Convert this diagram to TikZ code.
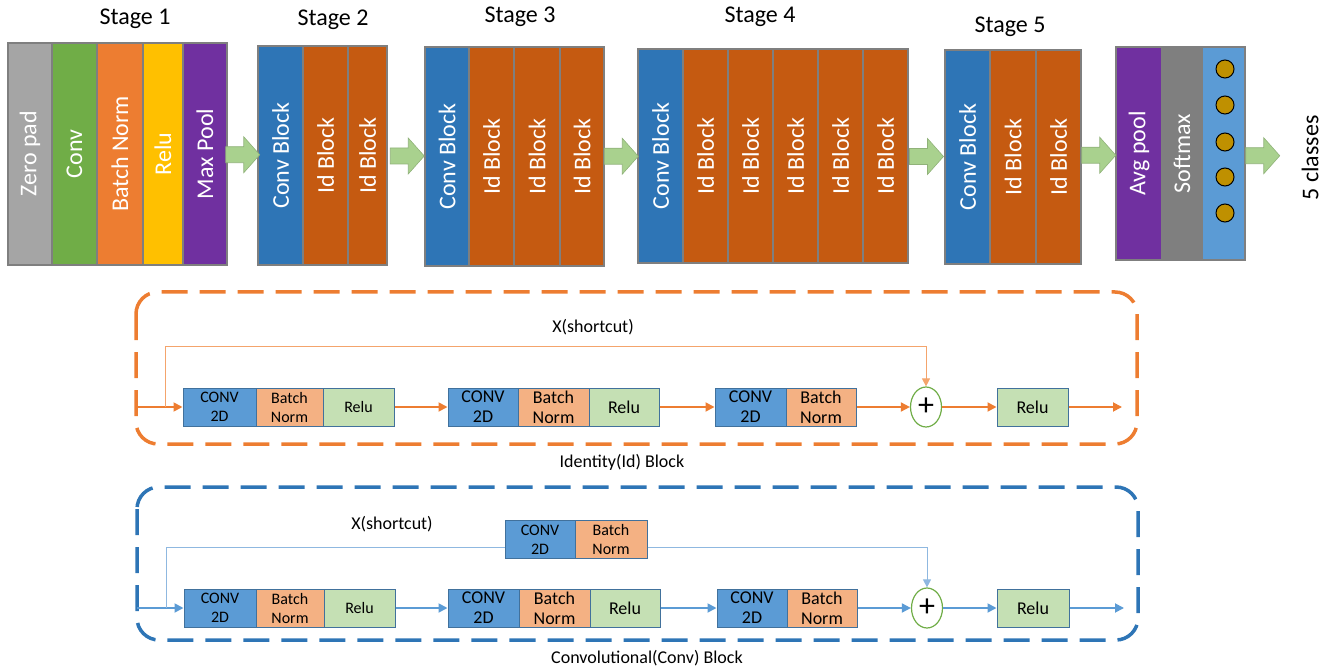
\documentclass[tikz,border=0pt]{standalone}
\usepackage{fontspec}
\setmainfont{Carlito}
\usetikzlibrary{arrows.meta,shapes.geometric,calc}

\definecolor{zpgray}{HTML}{A5A5A5}
\definecolor{convgreen}{HTML}{70AD47}
\definecolor{bnorange}{HTML}{ED7D31}
\definecolor{relugold}{HTML}{FFC000}
\definecolor{poolpurple}{HTML}{7030A0}
\definecolor{blockblue}{HTML}{2E75B6}
\definecolor{idbrown}{HTML}{C55A11}
\definecolor{softgray}{HTML}{7F7F7F}
\definecolor{outblue}{HTML}{5B9BD5}
\definecolor{dotgold}{HTML}{BF9000}
\definecolor{arrowgreen}{HTML}{A9D18E}
\definecolor{boxblue}{HTML}{5B9BD5}
\definecolor{boxpeach}{HTML}{F4B183}
\definecolor{boxgreen}{HTML}{C5E0B4}
\definecolor{boxedge}{HTML}{41719C}
\definecolor{lineblue}{HTML}{5B9BD5}
\definecolor{skipblue}{HTML}{8FB8E0}
\definecolor{skiporange}{HTML}{F4A46C}

\newcommand{\bigfont}{\fontsize{24}{28}\selectfont}
\newcommand{\midfont}{\fontsize{18}{20}\selectfont}
\newcommand{\smallfont}{\fontsize{16}{19}\selectfont}

\tikzset{
  col/.style={draw=softgray, line width=1.2pt, rotate=90, inner sep=0pt, text=white, font=\bigfont},
  dot/.style={circle, draw=black, line width=1pt, fill=dotgold, minimum size=18pt, inner sep=0pt},
  garrow/.style={fill=arrowgreen, draw=arrowgreen!85!black, line width=0.6pt},
  bx/.style={draw=boxedge, line width=1pt, inner sep=0pt, minimum height=38pt, align=center, font=\midfont},
  sbx/.style={bx, font=\smallfont},
  plus/.style={ellipse, draw=convgreen, line width=1.2pt, fill=white, minimum width=31pt, minimum height=40pt, inner sep=0pt, font=\fontsize{32}{32}\selectfont},
  flow/.style={-{Triangle[length=9pt,width=9pt]}, line width=1.8pt},
  skip/.style={line width=1pt},
  frame/.style={line width=3.5pt, rounded corners=22pt, dash pattern=on 26pt off 12pt},
  lbl/.style={font=\midfont}
}

\begin{document}
\begin{tikzpicture}[x=1pt,y=-1pt]
\useasboundingbox (0,0) rectangle (1333,668);

% stage 1
\node[font=\bigfont] (st1) at (135,19) {Stage 1};
\node[col, fill=zpgray, minimum width=222pt, minimum height=44pt] (zeropad) at (30,154) {Zero pad};
\node[col, fill=convgreen, minimum width=222pt, minimum height=45pt] (conv) at (74.5,154) {Conv};
\node[col, fill=bnorange, minimum width=222pt, minimum height=46pt] (bnorm) at (120,154) {Batch Norm};
\node[col, fill=relugold, minimum width=222pt, minimum height=40pt] (relu) at (163,154) {Relu};
\node[col, fill=poolpurple, minimum width=222pt, minimum height=44pt] (maxpool) at (205,154) {Max Pool};

% stage 2
\node[font=\bigfont] (st2) at (333,20) {Stage 2};
\node[col, fill=blockblue, minimum width=219pt, minimum height=45pt] (cbtwo) at (280.5,155.5) {Conv Block};
\node[col, fill=idbrown, minimum width=219pt, minimum height=45pt] (idtwoa) at (325.5,155.5) {Id Block};
\node[col, fill=idbrown, minimum width=219pt, minimum height=39pt] (idtwob) at (367.5,155.5) {Id Block};

% stage 3
\node[font=\bigfont] (st3) at (520,17) {Stage 3};
\node[col, fill=blockblue, minimum width=219pt, minimum height=44pt] (cbthree) at (447,156.5) {Conv Block};
\node[col, fill=idbrown, minimum width=219pt, minimum height=45pt] (idthreea) at (491.5,156.5) {Id Block};
\node[col, fill=idbrown, minimum width=219pt, minimum height=46pt] (idthreeb) at (537,156.5) {Id Block};
\node[col, fill=idbrown, minimum width=219pt, minimum height=44pt] (idthreec) at (582,156.5) {Id Block};

% stage 4
\node[font=\bigfont] (st4) at (760,17) {Stage 4};
\node[col, fill=blockblue, minimum width=214pt, minimum height=45pt] (cbfour) at (660.5,156) {Conv Block};
\node[col, fill=idbrown, minimum width=214pt, minimum height=45pt] (idfoura) at (705.5,156) {Id Block};
\node[col, fill=idbrown, minimum width=214pt, minimum height=45pt] (idfourb) at (750.5,156) {Id Block};
\node[col, fill=idbrown, minimum width=214pt, minimum height=45pt] (idfourc) at (795.5,156) {Id Block};
\node[col, fill=idbrown, minimum width=214pt, minimum height=45pt] (idfourd) at (840.5,156) {Id Block};
\node[col, fill=idbrown, minimum width=214pt, minimum height=45pt] (idfoure) at (885.5,156) {Id Block};

% stage 5
\node[font=\bigfont] (st5) at (1010,27) {Stage 5};
\node[col, fill=blockblue, minimum width=214pt, minimum height=45pt] (cbfive) at (967.5,157) {Conv Block};
\node[col, fill=idbrown, minimum width=214pt, minimum height=46pt] (idfivea) at (1013,157) {Id Block};
\node[col, fill=idbrown, minimum width=214pt, minimum height=45pt] (idfiveb) at (1058.5,157) {Id Block};

% head
\node[col, fill=poolpurple, minimum width=213pt, minimum height=46pt] (avgpool) at (1139,153.5) {Avg pool};
\node[col, fill=softgray, minimum width=213pt, minimum height=40pt] (softmax) at (1182,153.5) {Softmax};
\node[col, fill=outblue, minimum width=213pt, minimum height=43pt] (outcol) at (1223.5,153.5) {};
\node[dot] (d1) at (1225,69) {};
\node[dot] (d2) at (1225,105) {};
\node[dot] (d3) at (1225,142) {};
\node[dot] (d4) at (1225,177) {};
\node[dot] (d5) at (1225,213) {};
\node[rotate=90, font=\bigfont] (classes) at (1310,158) {5 classes};

% green arrows between stages
\draw[garrow] ($(maxpool)!.5!(cbtwo)$) ++(-17,-8) -- ++(18,0) -- ++(0,-10) -- ++(16,18) -- ++(-16,18) -- ++(0,-10) -- ++(-18,0) -- cycle;
\draw[garrow] ($(idtwob)!.5!(cbthree)$) ++(-17,-8) -- ++(18,0) -- ++(0,-10) -- ++(16,18) -- ++(-16,18) -- ++(0,-10) -- ++(-18,0) -- cycle;
\draw[garrow] ($(idthreec)!.5!(cbfour)$) ++(-17,-8) -- ++(18,0) -- ++(0,-10) -- ++(16,18) -- ++(-16,18) -- ++(0,-10) -- ++(-18,0) -- cycle;
\draw[garrow] ($(idfoure)!.5!(cbfive)$) ++(-17,-8) -- ++(18,0) -- ++(0,-10) -- ++(16,18) -- ++(-16,18) -- ++(0,-10) -- ++(-18,0) -- cycle;
\draw[garrow] ($(idfiveb)!.5!(avgpool)$) ++(-17,-8) -- ++(18,0) -- ++(0,-10) -- ++(16,18) -- ++(-16,18) -- ++(0,-10) -- ++(-18,0) -- cycle;
\draw[garrow] ($(outcol)!.5!(classes)$) ++(-21,-8) -- ++(18,0) -- ++(0,-10) -- ++(16,18) -- ++(-16,18) -- ++(0,-10) -- ++(-18,0) -- cycle;

% identity block
\draw[frame, draw=bnorange] (136,292) rectangle (1137,444);
\node[lbl] (ishortlbl) at (593,327) {X(shortcut)};
\node[lbl] (ititle) at (622,462) {Identity(Id) Block};
\node[sbx, fill=boxblue, minimum width=73pt] (iconva) at (219.5,407) {CONV\\2D};
\node[sbx, fill=boxpeach, minimum width=67pt] (ibna) at (289.5,407) {Batch\\Norm};
\node[sbx, fill=boxgreen, minimum width=71pt] (irelua) at (358.5,407) {Relu};
\node[bx, fill=boxblue, minimum width=70pt] (iconvb) at (483,407) {CONV\\2D};
\node[bx, fill=boxpeach, minimum width=71pt] (ibnb) at (553.5,407) {Batch\\Norm};
\node[bx, fill=boxgreen, minimum width=70pt] (irelub) at (624,407) {Relu};
\node[bx, fill=boxblue, minimum width=71pt] (iconvc) at (750.5,407) {CONV\\2D};
\node[bx, fill=boxpeach, minimum width=70pt] (ibnc) at (821,407) {Batch\\Norm};
\node[plus] (iplus) at (926,407) {+};
\node[bx, fill=boxgreen, minimum width=71pt] (ireluc) at (1032.5,407) {Relu};
\coordinate (iin) at (136,407);
\coordinate (ifork) at (165,407);
\coordinate (itop) at (165,346);
\coordinate (iout) at (1122,407);

\draw[flow, draw=bnorange] (iin) -- (iconva.west);
\draw[flow, draw=bnorange] (irelua.east) -- (iconvb.west);
\draw[flow, draw=bnorange] (irelub.east) -- (iconvc.west);
\draw[flow, draw=bnorange] (ibnc.east) -- (iplus.west);
\draw[flow, draw=bnorange] (iplus.east) -- (ireluc.west);
\draw[flow, draw=bnorange] (ireluc.east) -- (iout);
\draw[skip, draw=skiporange, -{Triangle[length=8pt,width=8pt]}] (ifork) -- (itop) -| (iplus.north);

% conv block
\draw[frame, draw=blockblue] (137,487) rectangle (1138,640);
\node[lbl] (cshortlbl) at (392,524) {X(shortcut)};
\node[lbl] (ctitle) at (647,658) {Convolutional(Conv) Block};
\node[sbx, fill=boxblue, minimum width=70pt] (csconv) at (540,539.5) {CONV\\2D};
\node[sbx, fill=boxpeach, minimum width=72pt] (csbn) at (611,539.5) {Batch\\Norm};
\node[sbx, fill=boxblue, minimum width=72pt] (cconva) at (220,608) {CONV\\2D};
\node[sbx, fill=boxpeach, minimum width=68pt] (cbna) at (290,608) {Batch\\Norm};
\node[sbx, fill=boxgreen, minimum width=71pt] (crelua) at (359.5,608) {Relu};
\node[bx, fill=boxblue, minimum width=71pt] (cconvb) at (483.5,608) {CONV\\2D};
\node[bx, fill=boxpeach, minimum width=71pt] (cbnb) at (554.5,608) {Batch\\Norm};
\node[bx, fill=boxgreen, minimum width=70pt] (crelub) at (625,608) {Relu};
\node[bx, fill=boxblue, minimum width=70pt] (cconvc) at (752,608) {CONV\\2D};
\node[bx, fill=boxpeach, minimum width=70pt] (cbnc) at (822,608) {Batch\\Norm};
\node[plus] (cplus) at (927,608) {+};
\node[bx, fill=boxgreen, minimum width=72pt] (creluc) at (1033,608) {Relu};
\coordinate (cin) at (137,608);
\coordinate (cfork) at (166,608);
\coordinate (cout) at (1124,608);

\draw[flow, draw=lineblue] (cin) -- (cconva.west);
\draw[flow, draw=lineblue] (crelua.east) -- (cconvb.west);
\draw[flow, draw=lineblue] (crelub.east) -- (cconvc.west);
\draw[flow, draw=lineblue] (cbnc.east) -- (cplus.west);
\draw[flow, draw=lineblue] (cplus.east) -- (creluc.west);
\draw[flow, draw=lineblue] (creluc.east) -- (cout);
\draw[skip, draw=skipblue] (cfork) |- ([yshift=-8pt]csconv.west);
\draw[skip, draw=skipblue, -{Triangle[length=8pt,width=8pt]}] ([yshift=-8pt]csbn.east) -| (cplus.north);
\end{tikzpicture}
\end{document}
